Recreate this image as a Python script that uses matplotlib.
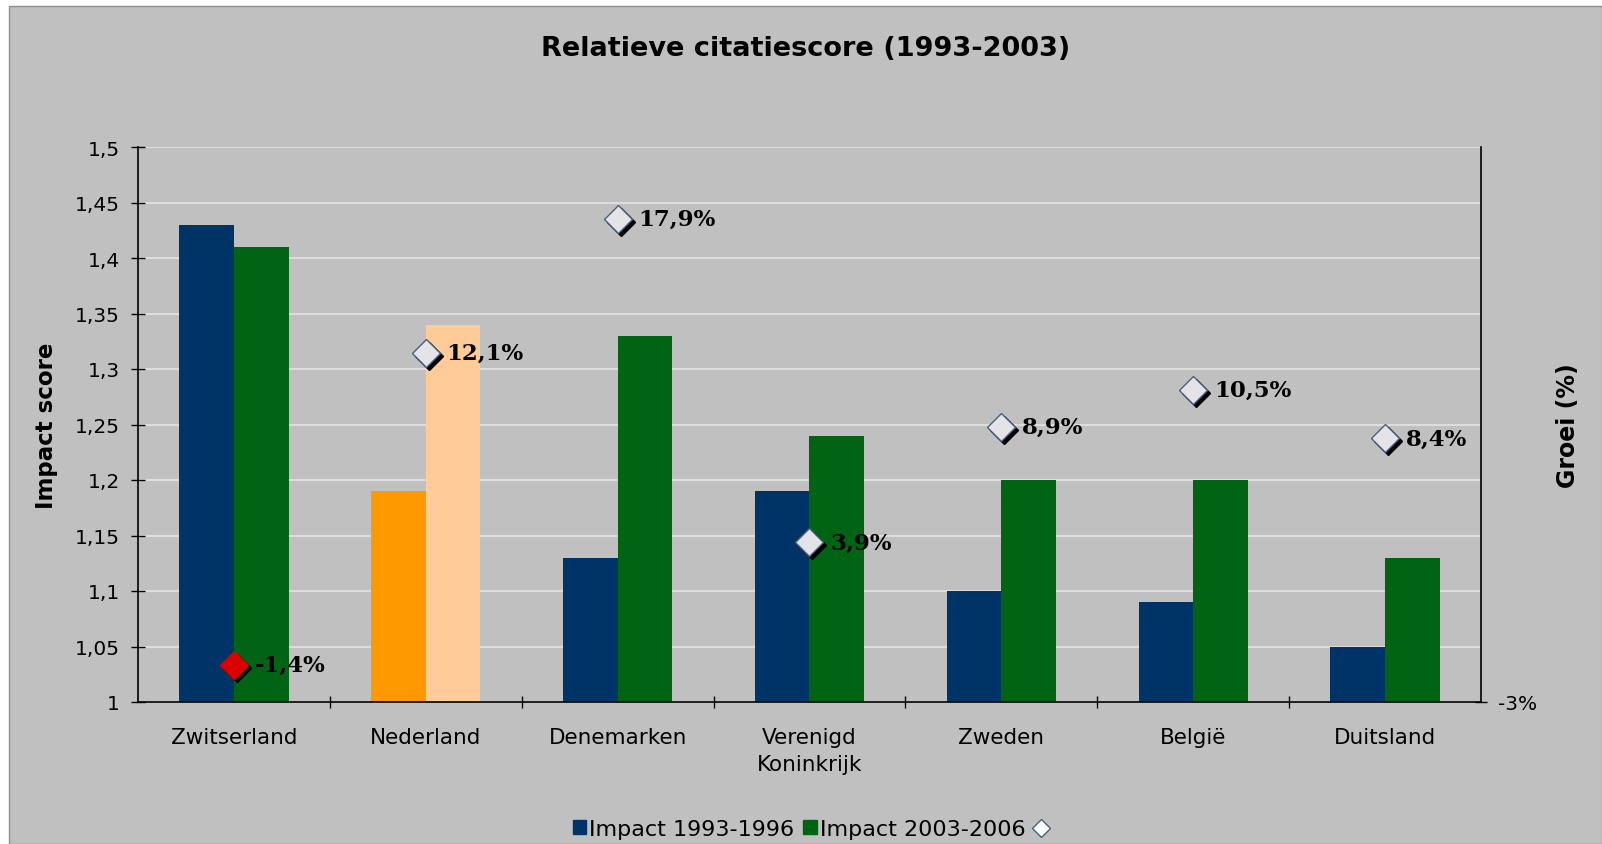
import matplotlib
matplotlib.use('Agg')
import matplotlib.pyplot as plt
import matplotlib.transforms as mtransforms
from matplotlib.patches import Rectangle
from matplotlib.lines import Line2D
from matplotlib.ticker import FuncFormatter, MultipleLocator
import numpy as np

plt.rcParams['font.family'] = ['DejaVu Sans']

# data
countries = ['Zwitserland', 'Nederland', 'Denemarken', 'Verenigd\nKoninkrijk',
             'Zweden', 'België', 'Duitsland']
impact_1993 = [1.43, 1.19, 1.13, 1.19, 1.10, 1.09, 1.05]
impact_2003 = [1.41, 1.34, 1.33, 1.24, 1.20, 1.20, 1.13]
growth = [-1.4, 12.1, 17.9, 3.9, 8.9, 10.5, 8.4]

BG = '#C0C0C0'
NAVY = '#003366'
GREEN = '#006414'
ORANGE = '#FF9900'
LIGHT_ORANGE = '#FFCC99'

W, H = 1602, 845
fig = plt.figure(figsize=(W / 100, H / 100), dpi=100, facecolor='white')
# grijs grafiekvlak met witte rand links/boven
fig.patches.append(Rectangle((9 / W, 0), 1 - 9 / W, 1 - 7 / H, transform=fig.transFigure,
                             facecolor=BG, edgecolor='#909090', linewidth=1, zorder=-10))

ax = fig.add_axes([138 / W, 1 - 703 / H, (1481 - 138) / W, (703 - 148) / H])
ax.patch.set_alpha(0)

x = np.arange(len(countries))
bw = 0.285
c1 = [ORANGE if c == 'Nederland' else NAVY for c in countries]
c2 = [LIGHT_ORANGE if c == 'Nederland' else GREEN for c in countries]
ax.bar(x, np.array(impact_1993) - 1, bottom=1, width=-bw, align='edge', color=c1, zorder=2)
ax.bar(x, np.array(impact_2003) - 1, bottom=1, width=bw, align='edge', color=c2, zorder=2)

ax.set_xlim(-0.5, len(countries) - 0.5)
ax.set_ylim(1, 1.5)
ax.yaxis.set_major_locator(MultipleLocator(0.05))
ax.yaxis.set_major_formatter(FuncFormatter(lambda v, p: f"{round(v, 2):g}".replace('.', ',')))
ax.grid(axis='y', color='#E4E4E4', linewidth=1.2, zorder=1)
ax.set_axisbelow(True)

ax.set_xticks(x)
ax.set_xticklabels(countries, fontsize=15.5, linespacing=1.45)
ax.set_xticks(x[:-1] + 0.5, minor=True)
ax.tick_params(axis='x', which='major', length=0, pad=18)
ax.tick_params(axis='x', which='minor', length=8, direction='inout', width=1)
ax.tick_params(axis='y', length=10, direction='inout', labelsize=14.5, pad=8, width=1)
for s in ['top', 'right']:
    ax.spines[s].set_visible(False)
ax.spines['left'].set_linewidth(1.2)
ax.spines['bottom'].set_linewidth(1.2)
ax.set_ylabel('Impact score', fontsize=16.5, fontweight='bold', labelpad=12)

# tweede as: groei in %
ax2 = ax.twinx()
ax2.set_ylim(-3, 21)
ax2.set_yticks([-3])
ax2.yaxis.set_major_formatter(FuncFormatter(lambda v, p: f"{v:g}%"))
ax2.tick_params(axis='y', length=8, direction='inout', labelsize=14.5, pad=8, width=1)
for s in ['top', 'left', 'bottom']:
    ax2.spines[s].set_visible(False)
ax2.spines['right'].set_linewidth(1.2)
ax2.set_ylabel('Groei (%)', fontsize=17, fontweight='bold', labelpad=14)

shadow = mtransforms.offset_copy(ax2.transData, fig=fig, x=3, y=-3, units='dots')
for i, g in enumerate(growth):
    fc = '#DD0000' if g < 0 else '#E4E4E8'
    ax2.plot(x[i], g, marker='D', markersize=14, color='black', transform=shadow,
             linestyle='none', zorder=4)
    ax2.plot(x[i], g, marker='D', markersize=14, markerfacecolor=fc,
             markeredgecolor='#4A6080' if g >= 0 else fc, markeredgewidth=1,
             linestyle='none', zorder=5)
    ax2.annotate(f"{g:.1f}".replace('.', ',') + '%', (x[i], g), xytext=(15, 0),
                 textcoords='offset points', ha='left', va='center',
                 fontsize=16.5, fontweight='bold', family='DejaVu Serif', zorder=6)

fig.text(806 / W, 1 - 49 / H, 'Relatieve citatiescore (1993-2003)', ha='center', va='center',
         fontsize=19.5, fontweight='bold')

handles = [Rectangle((0, 0), 1, 1, color=NAVY), Rectangle((0, 0), 1, 1, color=GREEN),
           Line2D([], [], marker='D', linestyle='none', markersize=9,
                  markerfacecolor='white', markeredgecolor='#4A6080')]
fig.legend(handles, ['Impact 1993-1996', 'Impact 2003-2006', ''], loc='center',
           bbox_to_anchor=(812 / W, 1 - 830 / H), ncol=3, frameon=False, fontsize=16,
           handlelength=0.6, handleheight=0.6, handletextpad=0.15, columnspacing=0.4)

fig.savefig('out.png', dpi=100, facecolor=fig.get_facecolor())
